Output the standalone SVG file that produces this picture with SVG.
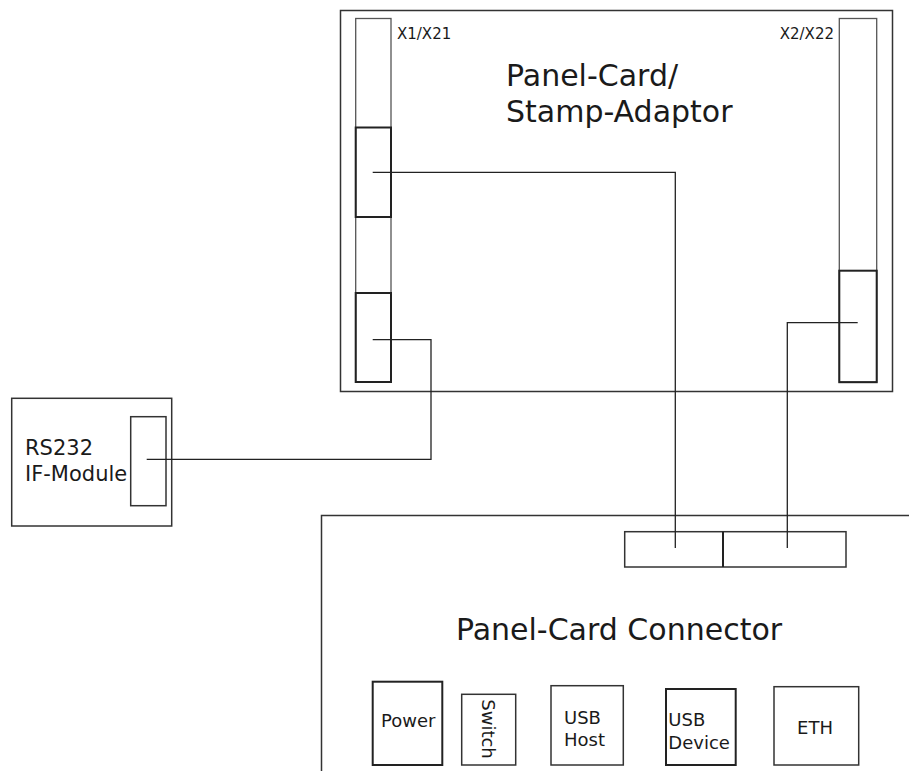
<svg xmlns="http://www.w3.org/2000/svg" width="909" height="771" viewBox="0 0 909 771">
<style>
.box{fill:none;stroke:#333;stroke-width:1.5}
.thin{fill:none;stroke:#555;stroke-width:1.3}
.bold{fill:none;stroke:#222;stroke-width:2}
.wire{fill:none;stroke:#222;stroke-width:1.3}
text{font-family:"DejaVu Sans",sans-serif;fill:#1a1a1a}
</style>
<rect width="909" height="771" fill="#fff"/>
<g id="adaptor">
<rect class="box" x="340.5" y="10.5" width="552" height="381"/>
<text x="506" y="86" font-size="30">Panel-Card/</text>
<text x="506" y="122" font-size="30">Stamp-Adaptor</text>
</g>
<g id="x1">
<rect class="thin" x="355.7" y="18.5" width="35.3" height="363.5"/>
<rect class="bold" x="355.7" y="127.5" width="35.3" height="89.5"/>
<rect class="bold" x="355.7" y="293" width="35.3" height="89"/>
<text x="397" y="39" font-size="15">X1/X21</text>
</g>
<g id="x2">
<rect class="thin" x="839.3" y="18.5" width="37.4" height="363.5"/>
<rect class="bold" x="839.3" y="270.7" width="37.4" height="111.5"/>
<text x="834" y="39" font-size="15" text-anchor="end">X2/X22</text>
</g>
<g id="rs232">
<rect class="box" x="11.7" y="398.3" width="160" height="127.7"/>
<rect class="box" x="130.7" y="416.7" width="35.3" height="89"/>
<text x="25" y="455" font-size="21">RS232</text>
<text x="25" y="481" font-size="21">IF-Module</text>
</g>
<g id="connector">
<path class="box" d="M321.5,771 V515.5 H909"/>
<rect class="box" x="624.7" y="531.7" width="221.3" height="35.3"/>
<line class="bold" x1="723" y1="531.7" x2="723" y2="567"/>
<text x="619" y="640" font-size="30" text-anchor="middle">Panel-Card Connector</text>
</g>
<g id="power">
<rect class="bold" x="372.7" y="681.7" width="69.6" height="83.3"/>
<text x="381" y="727" font-size="18">Power</text>
</g>
<g id="switch">
<rect class="box" x="461.7" y="694.3" width="54" height="70.7"/>
<text transform="translate(482,729) rotate(90)" font-size="18" text-anchor="middle">Switch</text>
</g>
<g id="usbhost">
<rect class="box" x="551" y="685.7" width="72.3" height="79.3"/>
<text x="564" y="723.5" font-size="18">USB</text>
<text x="564" y="746" font-size="18">Host</text>
</g>
<g id="usbdevice">
<rect class="bold" x="666" y="689" width="69.7" height="76"/>
<text x="668.3" y="725.5" font-size="18">USB</text>
<text x="668.3" y="749" font-size="18">Device</text>
</g>
<g id="eth">
<rect class="box" x="774" y="686.7" width="84.7" height="78.3"/>
<text x="815" y="734" font-size="18" text-anchor="middle">ETH</text>
</g>
<g id="connectors">
<path class="wire" d="M372.7,172.3 H675.3 V548"/>
<path class="wire" d="M372.7,339.7 H431 V459.3 H146.7"/>
<path class="wire" d="M857.7,322.7 H787.3 V548"/>
</g>
</svg>
